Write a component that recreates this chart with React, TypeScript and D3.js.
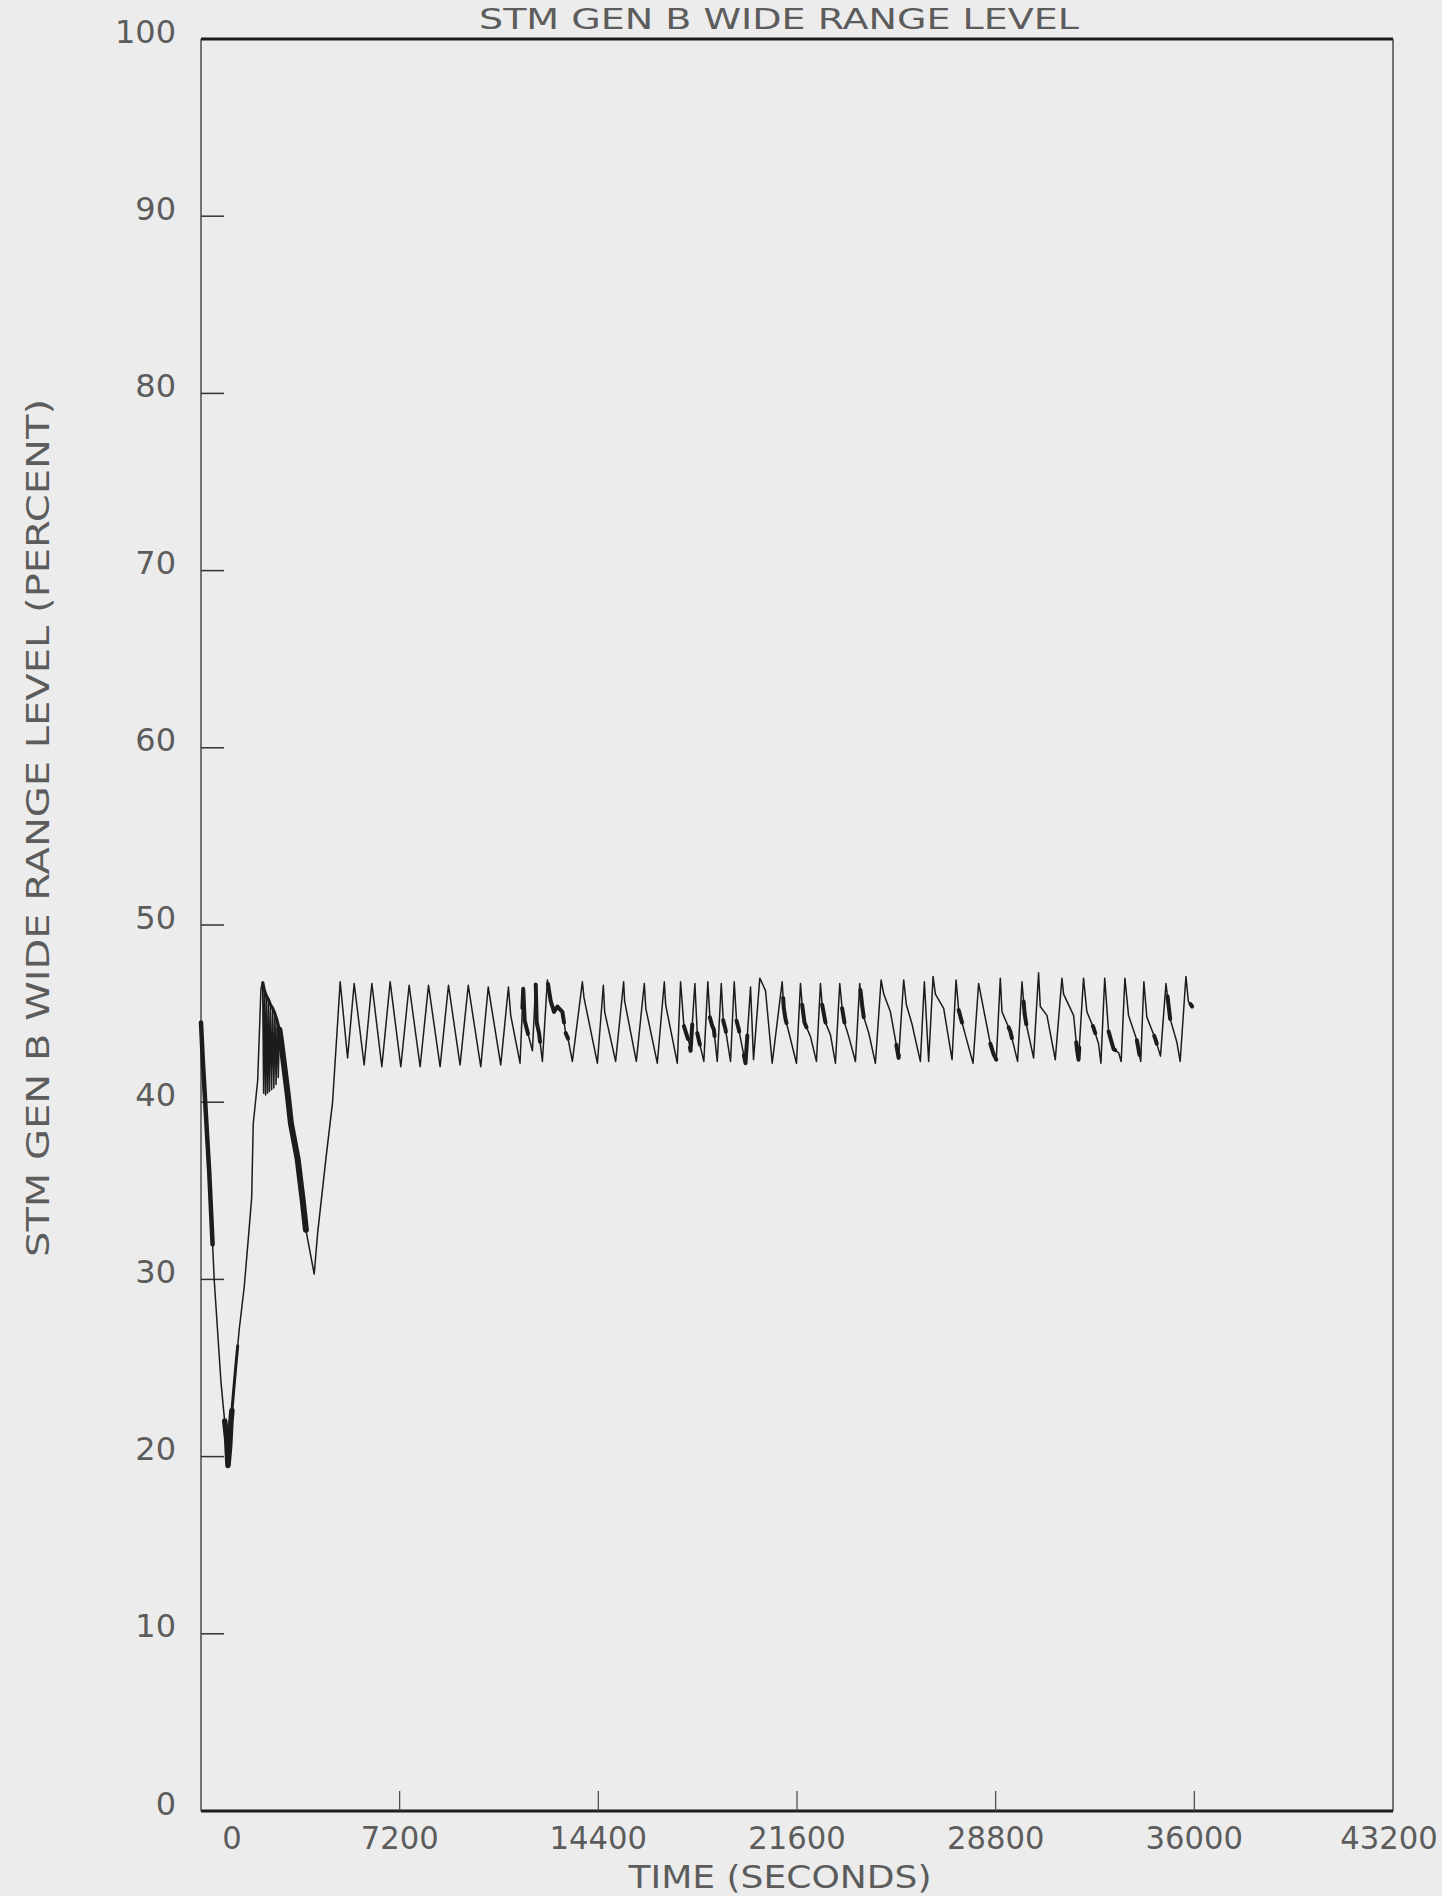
import React from "react";
import * as d3 from "d3";

// axis ticks
const yTicks = [0, 10, 20, 30, 40, 50, 60, 70, 80, 90, 100];
const xTicks = [0, 7200, 14400, 21600, 28800, 36000, 43200];

// initial level drop, refill and second dip (seconds, percent)
const fallT = [0, 60, 300, 482, 724, 833, 930, 978, 1040, 1086, 1267, 1387, 1568, 1720, 1836, 1894, 2053, 2173, 2234];
const fallV = [44.5, 42.5, 36.0, 29.9, 24.2, 22.4, 21.0, 19.5, 20.6, 22.0, 25.2, 27.2, 29.6, 32.4, 34.6, 38.8, 41.2, 46.4, 46.8];

// rapid feed cycling right after refill
const hatchT = [2270, 2300, 2340, 2370, 2410, 2445, 2480, 2520, 2560, 2600, 2640, 2680, 2720, 2760, 2800, 2840];
const hatchV = [40.5, 46.3, 40.4, 46.0, 40.5, 45.8, 40.6, 45.5, 40.7, 45.3, 40.8, 45.0, 41.0, 44.6, 41.4, 44.1];

// dense descending band, then second refill
const bandT = [2897, 3139, 3259, 3502, 3683, 3802, 4103, 4226, 4526, 4769];
const bandV = [43.5, 40.5, 38.8, 36.8, 34.5, 32.8, 30.3, 32.6, 36.8, 40.0];

// level cycling: peaks
const peakT = [5044, 5551, 6192, 6855, 7543, 8245, 8969, 9686, 10410, 11142, 11678, 12130, 12554, 13822, 14582, 15317,
  16066, 16791, 17381, 17899, 18369, 18855, 19325, 19916, 20252, 21063, 21726, 22450, 23149, 23873, 24648, 25466,
  26216, 26531, 27364, 28182, 28968, 29754, 30355, 31202, 31984, 32752, 33483, 34171, 34972, 35696];
const peakV = [46.8, 46.7, 46.7, 46.8, 46.6, 46.6, 46.6, 46.6, 46.5, 46.5, 46.4, 46.7, 46.9, 46.8, 46.6, 46.8,
  46.7, 46.8, 46.8, 46.7, 46.8, 46.7, 46.8, 46.5, 47.0, 46.8, 46.7, 46.7, 46.7, 46.7, 46.9, 46.9,
  46.8, 47.1, 46.9, 46.7, 47.0, 46.8, 47.3, 47.0, 47.0, 47.0, 47.0, 46.8, 46.7, 47.1];

// level cycling: troughs
const troughT = [5312, 5913, 6554, 7242, 7941, 8665, 9389, 10139, 10863, 11562, 12011, 12373, 13459, 14365, 15027,
  15777, 16537, 17261, 17743, 18224, 18710, 19191, 19734, 20024, 20701, 21581, 22305, 22993, 23718, 24442, 25283,
  26071, 26372, 27219, 27980, 28823, 29594, 30174, 30960, 31803, 32614, 33349, 34056, 34773, 35486];
const troughV = [42.5, 42.1, 42.0, 42.0, 42.0, 42.0, 42.1, 42.0, 42.1, 42.2, 42.9, 42.3, 42.3, 42.2, 42.3,
  42.3, 42.2, 42.2, 42.9, 42.3, 42.3, 42.3, 42.2, 42.4, 42.2, 42.2, 42.3, 42.2, 42.3, 42.2, 42.5,
  42.3, 42.3, 42.4, 42.2, 42.4, 42.3, 42.5, 42.4, 42.4, 42.2, 42.3, 42.3, 42.6, 42.3];

// knees and wiggles on the falling legs
const shoulderT = [11225, 11732, 11829, 12167, 12250, 12674, 12794, 12916, 13097, 13217, 13300, 13880, 14629, 15353,
  16120, 16840, 17501, 17562, 17682, 17985, 18044, 18442, 18528, 18587, 18927, 19010, 19409, 19492, 19615, 20459,
  21122, 21183, 21787, 21871, 22088, 22511, 22631, 22813, 23235, 23320, 23476, 23959, 24020, 24201, 24744, 24985,
  25227, 25564, 25770, 25854, 26615, 26916, 27459, 27580, 27701, 28244, 28606, 28727, 29029, 29330, 29849, 29910,
  30417, 30658, 31262, 31624, 31744, 32106, 32348, 32529, 32891, 33072, 33253, 33615, 33917, 34279, 34581, 35064,
  35124, 35365, 35782, 35920];
const shoulderV = [44.9, 44.6, 44.0, 44.5, 43.9, 45.7, 45.1, 45.4, 45.1, 43.9, 43.6, 45.9, 45.1, 45.7,
  45.3, 45.5, 44.3, 44.0, 43.4, 43.9, 43.5, 44.8, 44.3, 44.1, 44.6, 44.1, 44.6, 44.1, 43.1, 46.3,
  45.3, 44.7, 45.5, 44.5, 43.7, 45.5, 44.5, 43.8, 45.3, 44.5, 43.7, 45.5, 44.8, 43.9, 46.1, 45.1,
  43.0, 45.5, 44.4, 43.8, 46.1, 45.3, 45.2, 44.5, 43.8, 46.2, 43.3, 42.7, 45.1, 44.0, 45.0, 44.4,
  45.4, 44.9, 46.1, 44.9, 43.0, 45.1, 44.2, 43.3, 44.0, 43.0, 42.8, 44.9, 43.5, 44.8, 43.6, 45.5,
  44.7, 43.4, 45.7, 45.4];

// stretches where the trace is heavy (seconds)
const heavyFrom = [0, 860, 1100, 2840];
const heavyTo = [420, 1120, 1330, 3802];
const noiseFrom = [11648, 12131, 12577, 13217, 17502, 17720, 17985, 18443, 18926, 19409, 19675, 21099, 21787, 22511,
  23235, 23899, 25200, 27459, 28606, 29270, 29813, 31720, 32324, 32891, 33917, 34545, 35027, 35860];
const noiseTo = [11853, 12288, 13157, 13302, 17647, 17804, 18082, 18612, 19023, 19506, 19800, 21220, 21943, 22631,
  23320, 24020, 25290, 27580, 28823, 29390, 29910, 31830, 32410, 33133, 34013, 34641, 35124, 35920];

type Pt = [number, number];
const zip = (t: number[], v: number[]): Pt[] => t.map((d, i) => [d, v[i]] as Pt);

const W = 1442;
const H = 1896;
const M = { left: 201, right: 1393, top: 39, bottom: 1811 };
const INK = "#1c1c1c";
const TEXT = "#5c5c5c";
const FONT = "'DejaVu Sans', sans-serif";
const HEAVY_W = [4.5, 5.5, 3, 6];

export default function App() {
  const x = d3.scaleLinear().domain([0, 43200]).range([M.left, M.right]);
  const y = d3.scaleLinear().domain([0, 100]).range([M.bottom, M.top]);

  const series: Pt[] = [
    ...zip(fallT, fallV),
    ...zip(hatchT, hatchV),
    ...zip(bandT, bandV),
    ...zip(peakT, peakV),
    ...zip(troughT, troughV),
    ...zip(shoulderT, shoulderV),
  ].sort((a, b) => a[0] - b[0]);

  const line = d3
    .line<Pt>()
    .x((d) => x(d[0]))
    .y((d) => y(d[1]));

  const bis = d3.bisector((d: Pt) => d[0]).left;
  const at = (t: number) => {
    const i = bis(series, t);
    if (i <= 0) return series[0][1];
    if (i >= series.length) return series[series.length - 1][1];
    const a = series[i - 1];
    const b = series[i];
    return a[1] + ((b[1] - a[1]) * (t - a[0])) / (b[0] - a[0]);
  };
  const span = (t0: number, t1: number): Pt[] => [
    [t0, at(t0)],
    ...series.filter((d) => d[0] > t0 && d[0] < t1),
    [t1, at(t1)],
  ];

  // upper edge of the cycling just after refill
  const envelope: Pt[] = [
    [fallT[fallT.length - 1], fallV[fallV.length - 1]],
    ...zip(hatchT, hatchV).filter((_, i) => i % 2 === 1),
  ];

  // the plotter shifts the first and last time labels inward
  const labelShift = (t: number) => (t === 0 ? 31 : t === 43200 ? -4 : 0);

  return (
    <svg
      width={W}
      height={H}
      style={{ position: "absolute", left: 0, top: 0, background: "#ececec" }}
    >
      <rect x={0} y={0} width={W} height={H} fill="#ececec" />

      {/* title at the top edge */}
      <text
        x={779}
        y={29}
        textAnchor="middle"
        fontFamily={FONT}
        fontSize={28}
        fill={TEXT}
        textLength={600}
        lengthAdjust="spacingAndGlyphs"
      >
        STM GEN B WIDE RANGE LEVEL
      </text>

      {/* frame */}
      <line x1={M.left} x2={M.right} y1={M.top} y2={M.top} stroke={INK} strokeWidth={3.2} />
      <line x1={M.left} x2={M.right} y1={M.bottom} y2={M.bottom} stroke={INK} strokeWidth={3} />
      <line x1={M.left} x2={M.left} y1={M.top} y2={M.bottom} stroke="#333" strokeWidth={1.3} />
      <line x1={M.right} x2={M.right} y1={M.top} y2={M.bottom} stroke="#333" strokeWidth={1.3} />

      {/* y ticks */}
      {yTicks.map((v) => (
        <g key={"y" + v}>
          {v > 0 && v < 100 && (
            <line x1={M.left} x2={M.left + 23} y1={y(v)} y2={y(v)} stroke="#333" strokeWidth={1.5} />
          )}
          <text
            x={176}
            y={y(v) - 8}
            dy="0.36em"
            textAnchor="end"
            fontFamily={FONT}
            fontSize={32}
            fill={TEXT}
          >
            {v}
          </text>
        </g>
      ))}

      {/* x ticks */}
      {xTicks.map((t) => (
        <g key={"x" + t}>
          {t > 0 && t < 43200 && (
            <line x1={x(t)} x2={x(t)} y1={M.bottom} y2={M.bottom - 20} stroke="#444" strokeWidth={1.2} />
          )}
          <text
            x={x(t) + labelShift(t)}
            y={1849}
            textAnchor="middle"
            fontFamily={FONT}
            fontSize={32}
            fill={TEXT}
            textLength={String(t).length * 19.5}
            lengthAdjust="spacingAndGlyphs"
          >
            {t}
          </text>
        </g>
      ))}

      {/* axis titles */}
      <text
        x={780}
        y={1888}
        textAnchor="middle"
        fontFamily={FONT}
        fontSize={32}
        fill={TEXT}
        textLength={303}
        lengthAdjust="spacingAndGlyphs"
      >
        TIME (SECONDS)
      </text>
      <text
        transform="translate(37,828) rotate(-90)"
        dy="0.36em"
        textAnchor="middle"
        fontFamily={FONT}
        fontSize={32}
        fill={TEXT}
        textLength={858}
        lengthAdjust="spacingAndGlyphs"
      >
        STM GEN B WIDE RANGE LEVEL (PERCENT)
      </text>

      {/* trace */}
      <path d={line(series) || ""} fill="none" stroke={INK} strokeWidth={1.5} strokeLinejoin="round" />
      <path d={line(envelope) || ""} fill="none" stroke={INK} strokeWidth={3} strokeLinejoin="round" />
      {heavyFrom.map((t0, i) => (
        <path
          key={"h" + i}
          d={line(span(t0, heavyTo[i])) || ""}
          fill="none"
          stroke={INK}
          strokeWidth={HEAVY_W[i]}
          strokeLinejoin="round"
          strokeLinecap="round"
        />
      ))}
      {noiseFrom.map((t0, i) => (
        <path
          key={"n" + i}
          d={line(span(t0, noiseTo[i])) || ""}
          fill="none"
          stroke={INK}
          strokeWidth={4}
          strokeLinejoin="round"
          strokeLinecap="round"
        />
      ))}
    </svg>
  );
}
